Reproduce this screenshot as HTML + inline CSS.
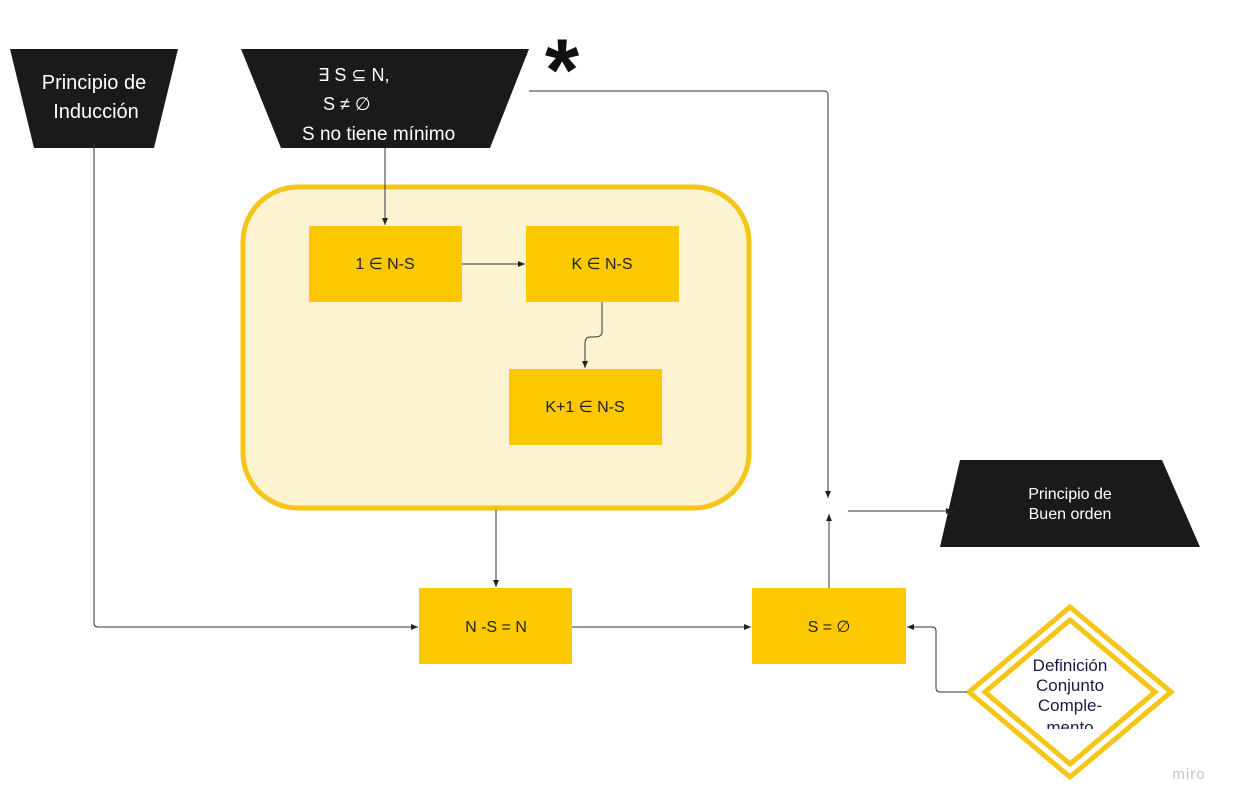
<!DOCTYPE html>
<html><head><meta charset="utf-8"><style>
html,body{margin:0;padding:0;background:#fff;width:1237px;height:808px;overflow:hidden}
svg{display:block;font-family:"Liberation Sans","DejaVu Sans",sans-serif}
</style></head><body>
<svg width="1237" height="808" viewBox="0 0 1237 808">
<defs><marker id="ar" markerWidth="8" markerHeight="8" refX="7" refY="4" orient="auto"><path d="M0,1 L7,4 L0,7 Z" fill="#222"/></marker></defs>
<polygon points="10,49 178,49 154,148 34,148" fill="#1a1a1a"/>
<text x="94" y="89" fill="#fff" font-size="20" text-anchor="middle">Principio de</text>
<text x="96" y="118" fill="#fff" font-size="20" text-anchor="middle">Inducción</text>
<polygon points="241,49 529,49 490,148 281,148" fill="#1a1a1a"/>
<text x="318" y="81" fill="#fff" font-size="18">∃ S ⊆ N,</text>
<text x="323" y="110" fill="#fff" font-size="18">S ≠ ∅</text>
<text x="302" y="140" fill="#fff" font-size="19">S no tiene mínimo</text>
<text x="562" y="100" font-size="88" font-weight="bold" fill="#111" text-anchor="middle">*</text>
<rect x="243" y="187" width="506" height="321" rx="55" fill="#fdf3d0" stroke="#f5c518" stroke-width="5"/>
<g font-size="16" fill="#222" text-anchor="middle">
<rect x="309" y="226" width="153" height="76" fill="#fcc800"/>
<text x="385" y="269">1 ∈ N-S</text>
<rect x="526" y="226" width="153" height="76" fill="#fcc800"/>
<text x="602" y="269">K ∈ N-S</text>
<rect x="509" y="369" width="153" height="76" fill="#fcc800"/>
<text x="585" y="412">K+1 ∈ N-S</text>
<rect x="419" y="588" width="153" height="76" fill="#fcc800"/>
<text x="496" y="632">N -S = N</text>
<rect x="752" y="588" width="154" height="76" fill="#fcc800"/>
<text x="829" y="632">S = ∅</text>
</g>
<polygon points="960,460 1162,460 1200,547 940,547" fill="#1a1a1a"/>
<text x="1070" y="499" fill="#fff" font-size="16" text-anchor="middle">Principio de</text>
<text x="1070" y="519" fill="#fff" font-size="16" text-anchor="middle">Buen orden</text>
<g>
<polygon points="1070,607 1171,692 1070,777 969,692" fill="#fff" stroke="#f5c518" stroke-width="5"/>
<polygon points="1070,620 1155,692 1070,764 985,692" fill="none" stroke="#f5c518" stroke-width="5"/>
<clipPath id="dc"><rect x="1010" y="645" width="120" height="84"/></clipPath>
<g clip-path="url(#dc)" font-size="17" fill="#1a1a40" text-anchor="middle">
<text x="1070" y="671">Definición</text>
<text x="1070" y="691">Conjunto</text>
<text x="1070" y="711">Comple-</text>
<text x="1070" y="733">mento</text>
</g></g>
<g stroke="#333" stroke-width="1" fill="none">
<path d="M529,91 H824 Q828,91 828,95 V498" marker-end="url(#ar)"/>
<path d="M385,148 V225" marker-end="url(#ar)"/>
<path d="M462,264 H525" marker-end="url(#ar)"/>
<path d="M602,302 V332 Q602,337 594,337 H590 Q585,337 585,344 V368" marker-end="url(#ar)"/>
<path d="M496,510 V587" marker-end="url(#ar)"/>
<path d="M94,142 V623 Q94,627 98,627 H418" marker-end="url(#ar)"/>
<path d="M572,627 H751" marker-end="url(#ar)"/>
<path d="M829,588 V514" marker-end="url(#ar)"/>
<path d="M848,511 H953" marker-end="url(#ar)"/>
<path d="M967,692 H940 Q936,692 936,688 V631 Q936,627 932,627 H907" marker-end="url(#ar)"/>
</g>
<text x="1189" y="779" font-size="15" fill="#c4c4cc" text-anchor="middle" letter-spacing="1">miro</text>
</svg>
</body></html>
